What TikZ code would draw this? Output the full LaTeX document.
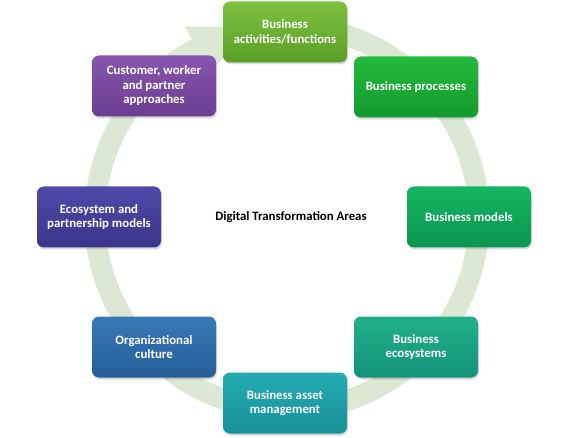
\documentclass[tikz,border=0pt]{standalone}
\usepackage{fontspec}
\setmainfont{Carlito}
\usetikzlibrary{shadows}
\definecolor{ring}{RGB}{221,232,212}
\tikzstyle{area}=[rounded corners=7pt, minimum width=124pt, minimum height=61pt,
  align=center, text=white, font=\fontsize{12.8}{14.5}\selectfont\bfseries,
  drop shadow={opacity=0.3, shadow xshift=1pt, shadow yshift=-2pt}]

\begin{document}
\begin{tikzpicture}[x=1pt, y=-1pt]
\useasboundingbox (0,0) rectangle (570,438);
% Ring with arrow head
    \coordinate (c) at (287,218);
    \draw[ring, line width=21pt] (c) ++(-85:192) arc[start angle=-85, end angle=243, radius=192];
    \fill[ring] ([shift={(242:167)}]c) -- ([shift={(242:217)}]c) -- ([shift={(263:192)}]c) -- cycle;
% Areas
    \node[area, top color={rgb,255:red,125;green,193;blue,66}, bottom color={rgb,255:red,91;green,158;blue,37}]
      (act) at (285,32) {Business\\activities/functions};
    \node[area, top color={rgb,255:red,36;green,186;blue,60}, bottom color={rgb,255:red,18;green,154;blue,46}]
      (proc) at (416,87) {Business processes};
    \node[area, top color={rgb,255:red,20;green,181;blue,96}, bottom color={rgb,255:red,11;green,150;blue,80}]
      (models) at (469,217) {Business models};
    \node[area, top color={rgb,255:red,32;green,176;blue,136}, bottom color={rgb,255:red,19;green,147;blue,122}]
      (eco) at (416,347) {Business\\ecosystems};
    \node[area, top color={rgb,255:red,36;green,171;blue,178}, bottom color={rgb,255:red,24;green,144;blue,154}]
      (asset) at (285,403) {Business asset\\management};
    \node[area, top color={rgb,255:red,55;green,121;blue,183}, bottom color={rgb,255:red,38;green,94;blue,151}]
      (culture) at (154,347) {Organizational\\culture};
    \node[area, top color={rgb,255:red,79;green,73;blue,170}, bottom color={rgb,255:red,58;green,53;blue,137}]
      (partner) at (99,217) {Ecosystem and\\partnership models};
    \node[area, top color={rgb,255:red,136;green,85;blue,175}, bottom color={rgb,255:red,106;green,62;blue,144}]
      (cust) at (154,86) {Customer, worker\\and partner\\approaches};
% Centre
    \node[font=\fontsize{12.8}{14.5}\selectfont\bfseries] (title) at (291,217) {Digital Transformation Areas};
\end{tikzpicture}
\end{document}
